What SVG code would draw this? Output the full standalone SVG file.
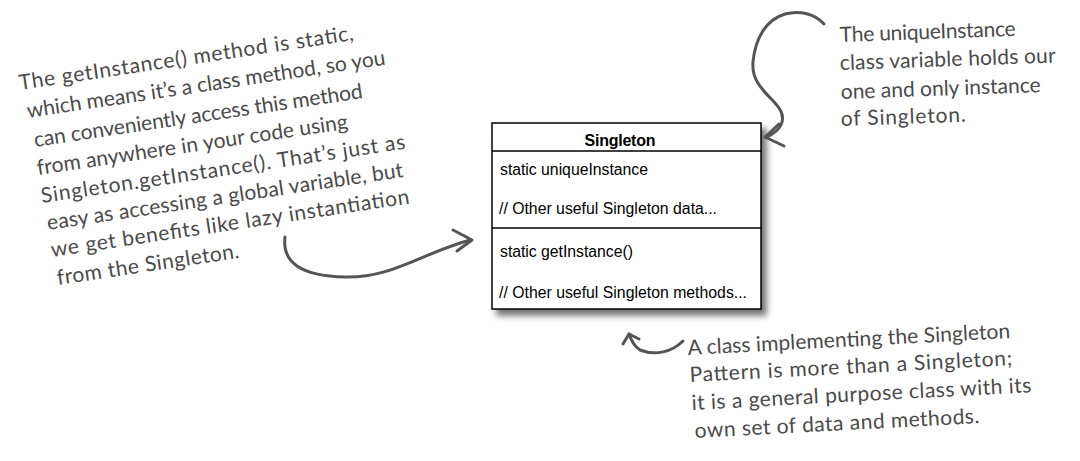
<svg xmlns="http://www.w3.org/2000/svg" width="1080" height="461" viewBox="0 0 1080 461">
<style>
.hand{font-family:"Lato","Noto Sans",sans-serif;font-size:21px;fill:#4a4a4a;}
.uml{font-family:"Liberation Sans",Arial,sans-serif;font-size:15.8px;fill:#000;}
.umlb{font-family:"Liberation Sans",Arial,sans-serif;font-size:16px;font-weight:bold;fill:#000;}
.conn{fill:none;stroke:#555;stroke-width:3;stroke-linecap:round;stroke-linejoin:round;}
</style>
<defs>
<filter id="sh" x="-10%" y="-10%" width="130%" height="130%">
<feDropShadow dx="5" dy="6" stdDeviation="3" flood-color="#000" flood-opacity="0.55"/>
</filter>
</defs>
<rect width="1080" height="461" fill="#fff"/>
<g id="singleton">
<rect x="492" y="123" width="269" height="186" fill="#fff" stroke="#000" stroke-width="1.5" filter="url(#sh)"/>
<line x1="492" y1="151" x2="761" y2="151" stroke="#000" stroke-width="1.3"/>
<line x1="492" y1="228" x2="761" y2="228" stroke="#000" stroke-width="1.3"/>
<text class="umlb" x="620" y="146" text-anchor="middle" textLength="71">Singleton</text>
<text class="uml" x="500" y="175" textLength="148">static uniqueInstance</text>
<text class="uml" x="499" y="214" textLength="218">// Other useful Singleton data...</text>
<text class="uml" x="500" y="257" textLength="133">static getInstance()</text>
<text class="uml" x="499" y="298" textLength="248">// Other useful Singleton methods...</text>
</g>
<g id="note-left">
<text class="hand" x="20" y="90" transform="rotate(-8.5 20 90)" textLength="338">The getInstance() method is static,</text>
<text class="hand" x="28" y="118" transform="rotate(-8.5 28 118)" textLength="362">which means it’s a class method, so you</text>
<text class="hand" x="35" y="147" transform="rotate(-8.5 35 147)" textLength="332">can conveniently access this method</text>
<text class="hand" x="38" y="175" transform="rotate(-8.5 38 175)" textLength="314">from anywhere in your code using</text>
<text class="hand" x="42" y="203" transform="rotate(-8.5 42 203)" textLength="368">Singleton.getInstance().  That’s just as</text>
<text class="hand" x="48" y="230" transform="rotate(-8.5 48 230)" textLength="360">easy as accessing a global variable, but</text>
<text class="hand" x="52" y="257" transform="rotate(-8.5 52 257)" textLength="362">we get benefits like lazy instantiation</text>
<text class="hand" x="58" y="285" transform="rotate(-8.5 58 285)" textLength="184">from the Singleton.</text>
</g>
<g id="note-top">
<text class="hand" x="840" y="42" transform="rotate(-2 840 42)" textLength="176">The uniqueInstance</text>
<text class="hand" x="840" y="70" transform="rotate(-2 840 70)" textLength="216">class variable holds our</text>
<text class="hand" x="841" y="99" transform="rotate(-2 841 99)" textLength="200">one and only instance</text>
<text class="hand" x="841" y="126" transform="rotate(-2 841 126)" textLength="125">of Singleton.</text>
</g>
<g id="note-bottom">
<text class="hand" x="688" y="355" transform="rotate(-3 688 355)" textLength="323">A class implementing the Singleton</text>
<text class="hand" x="690" y="382" transform="rotate(-3 690 382)" textLength="323">Pattern is more than a Singleton;</text>
<text class="hand" x="692" y="410" transform="rotate(-3 692 410)" textLength="340">it is a general purpose class with its</text>
<text class="hand" x="695" y="438" transform="rotate(-3 695 438)" textLength="285">own set of data and methods.</text>
</g>
<g id="connectors">
<path class="conn" d="M285,237 C282,262 300,276 345,277 C392,278 420,254 470,240"/>
<path class="conn" d="M453,230 L472,240 L457,251"/>
<path class="conn" d="M824,24 C815,14 800,10 785,14 C765,20 755,40 753,62 C751,85 770,95 779,108 C786,118 783,130 766,137"/>
<path class="conn" d="M779,124 L765,137 L784,146"/>
<path class="conn" d="M683,341 C672,352 655,356 640,350 C634,346 631,340 629,334"/>
<path class="conn" d="M623,344 L629,334 L639,339"/>
</g>
</svg>
